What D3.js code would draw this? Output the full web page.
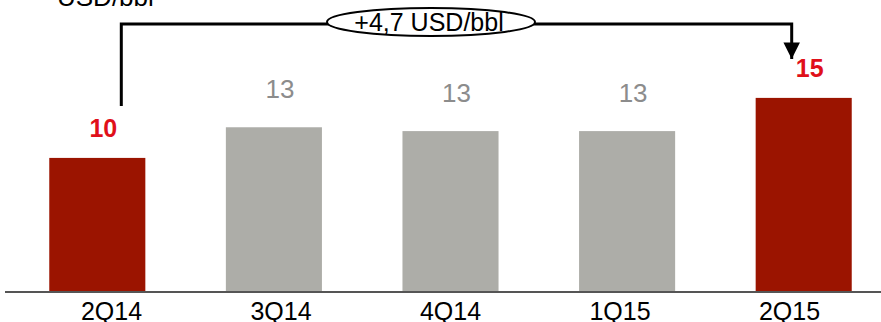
<!DOCTYPE html>
<html>
<head>
<meta charset="utf-8">
<script src="https://cdn.jsdelivr.net/npm/d3@7"></script>
<style>
  body { margin: 0; background: #fff; }
  svg { display: block; font-family: "Liberation Sans", Arial, sans-serif; }
</style>
</head>
<body>
<div id="chart"></div>
<script>
// data
var quarters = ["2Q14", "3Q14", "4Q14", "1Q15", "2Q15"];
var values = [10.5, 12.9, 12.6, 12.6, 15.2];
var valueLabels = ["10", "13", "13", "13", "15"];
var highlighted = [true, false, false, false, true];
var unitLabel = "USD/bbl";
var deltaLabel = "+4,7 USD/bbl";

var width = 881,
    height = 322;

var red = "#9b1400",
    grey = "#adada8",
    redText = "#e0101a",
    greyText = "#8c8c8c";

var svg = d3.select("#chart")
    .append("svg")
    .attr("width", width)
    .attr("height", height);

var x = d3.scaleBand()
    .domain(quarters)
    .range([9, 892])
    .paddingInner(0.456)
    .paddingOuter(0.228);

// category labels sit on their own, slightly tighter spacing
var xLab = d3.scalePoint()
    .domain(quarters)
    .range([111, 789]);

var y = d3.scaleLinear()
    .domain([0, 20])
    .range([292, 36.6]);

// bars
svg.selectAll("rect.bar")
    .data(quarters)
    .join("rect")
    .attr("class", "bar")
    .attr("x", d => x(d))
    .attr("y", (d, i) => y(values[i]))
    .attr("width", x.bandwidth())
    .attr("height", (d, i) => y(0) - y(values[i]))
    .attr("fill", (d, i) => highlighted[i] ? red : grey);

// value labels
svg.selectAll("text.val")
    .data(quarters)
    .join("text")
    .attr("class", "val")
    .attr("x", (d, i) => x(d) + x.bandwidth() / 2 + 6)
    .attr("y", (d, i) => y(values[i]) - (highlighted[i] ? 21 : 29))
    .attr("text-anchor", "middle")
    .style("font-size", (d, i) => highlighted[i] ? "25px" : "26px")
    .style("font-weight", (d, i) => highlighted[i] ? "bold" : "normal")
    .style("fill", (d, i) => highlighted[i] ? redText : greyText)
    .text((d, i) => valueLabels[i]);

// baseline axis
var xAxis = d3.axisBottom(xLab).tickSize(0).tickPadding(8);
var gx = svg.append("g")
    .attr("transform", "translate(0," + y(0) + ")")
    .call(xAxis);
gx.select(".domain").remove();
gx.append("line")
    .attr("x1", 5)
    .attr("x2", width)
    .attr("stroke", "#555")
    .attr("stroke-width", 2);
gx.selectAll(".tick text")
    .attr("dy", "0.8em")
    .style("font-size", "25px")
    .style("font-family", "'Liberation Sans', Arial, sans-serif")
    .style("fill", "#000");

// unit label (cropped at top)
svg.append("text")
    .attr("x", 57)
    .attr("y", 6)
    .style("font-size", "26px")
    .style("fill", "#000")
    .text(unitLabel);

// bracket connector 2Q14 -> 2Q15
var x0 = x(quarters[0]) + x.bandwidth() / 2 + 24,
    x1 = x(quarters[4]) + x.bandwidth() / 2 - 12,
    topY = 24;

svg.append("defs")
    .append("marker")
    .attr("id", "arrow")
    .attr("viewBox", "0 0 10 10")
    .attr("refX", 10)
    .attr("refY", 5)
    .attr("markerWidth", 5.5)
    .attr("markerHeight", 5.5)
    .attr("markerUnits", "strokeWidth")
    .attr("orient", "auto")
    .append("path")
    .attr("d", "M0,0L10,5L0,10Z")
    .attr("fill", "#000");

svg.append("path")
    .attr("d", "M" + x0 + "," + (y(values[0]) - 52) + "V" + topY + "H" + x1 + "V" + (y(values[4]) - 39))
    .attr("fill", "none")
    .attr("stroke", "#000")
    .attr("stroke-width", 3)
    .attr("marker-end", "url(#arrow)");

var ex = 431, ey = 22;
svg.append("ellipse")
    .attr("cx", ex)
    .attr("cy", ey)
    .attr("rx", 104)
    .attr("ry", 14)
    .attr("fill", "#fff")
    .attr("stroke", "#000")
    .attr("stroke-width", 2);

svg.append("text")
    .attr("x", ex - 2)
    .attr("y", ey + 9)
    .attr("text-anchor", "middle")
    .style("font-size", "25px")
    .style("fill", "#000")
    .text(deltaLabel);
</script>
</body>
</html>
